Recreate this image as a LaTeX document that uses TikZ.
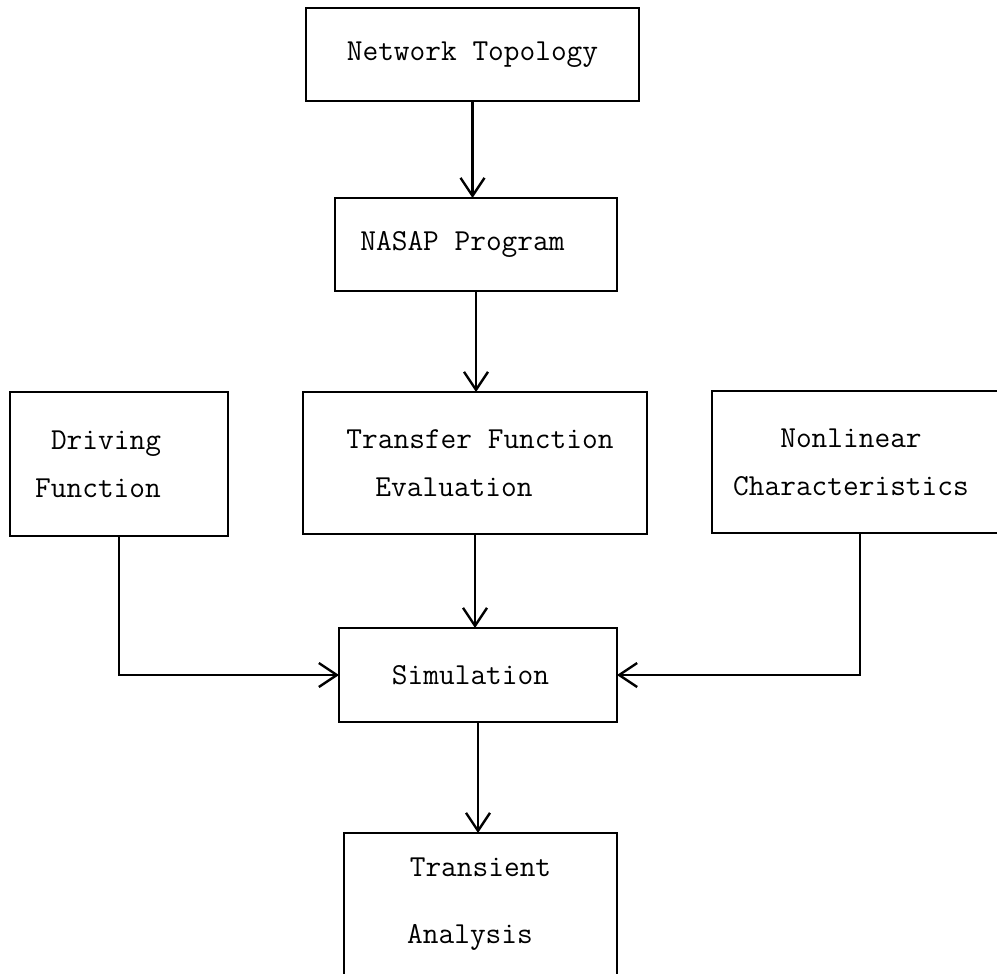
\documentclass[tikz,border=0pt]{standalone}
\usetikzlibrary{arrows.meta}
\begin{document}
\begin{tikzpicture}[x=1pt,y=-1pt,
  box/.style={draw=black, line width=2.4pt, rectangle, inner sep=0pt, outer sep=0pt,
    align=center, font=\ttfamily\fontsize{30.5}{48}\selectfont},
  conn/.style={draw=black, line width=2.4pt, -{Straight Barb[length=18pt,width=24pt,line width=2.4pt]}}]
\useasboundingbox (0,0) rectangle (997,974);
\clip (0,0) rectangle (997,974);
\fill[white] (0,0) rectangle (997,974);
\node[box, minimum width=333pt, minimum height=93pt] (net) at (472.5,54.5) {Network Topology};
\node[box, minimum width=282pt, minimum height=93pt] (nasap) at (476,244.5) {\hspace*{-27pt}NASAP Program};
\node[box, minimum width=218pt, minimum height=144pt] (drv) at (119,464) {\hspace*{-26pt}Driving\\\hspace*{-42pt}Function};
\node[box, minimum width=344pt, minimum height=142pt] (tf) at (475,463) {\hspace*{10pt}Transfer Function\\\hspace*{-42pt}Evaluation};
\node[box, minimum width=296pt, minimum height=142pt] (nl) at (860,462) {\hspace*{-18pt}Nonlinear\\\hspace*{-18pt}Characteristics};
\node[box, minimum width=278pt, minimum height=94pt] (sim) at (478,675) {\hspace*{-15pt}Simulation};
\node[box, minimum width=273pt, minimum height=142pt] (tr) at (480.5,904) {Transient\\[19pt]\hspace*{-21pt}Analysis};
\draw[conn] (net.south) -- (net.south |- nasap.north);
\draw[conn] (nasap.south) -- (nasap.south |- tf.north);
\draw[conn] (tf.south) -- (tf.south |- sim.north);
\draw[conn] (sim.south) -- (sim.south |- tr.north);
\draw[conn] (drv.south) |- (sim.west);
\draw[conn] (nl.south) |- (sim.east);
\end{tikzpicture}
\end{document}
